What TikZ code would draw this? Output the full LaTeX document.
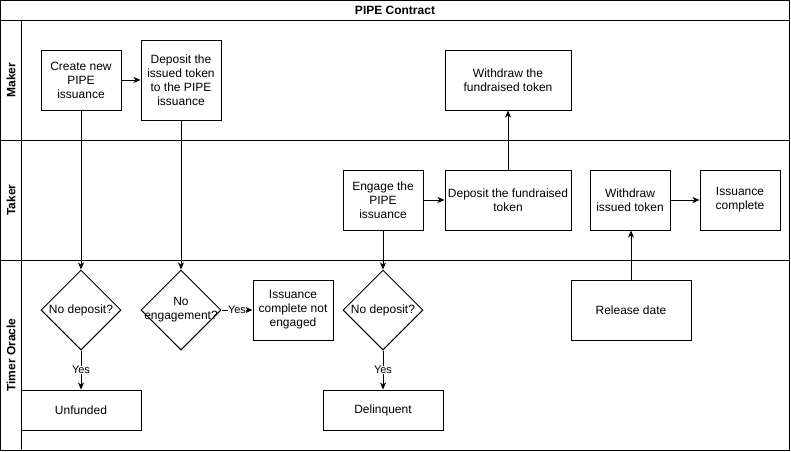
\documentclass[tikz,border=0pt]{standalone}
\usepackage{fontspec}
\setmainfont{Liberation Sans}
\usetikzlibrary{shapes.geometric,arrows.meta}
\newcommand{\pipefont}{\fontsize{12}{14}\selectfont}
\tikzset{
	lanebox/.style={draw=black, line width=1pt},
	lanelabel/.style={rotate=90, font=\pipefont\bfseries},
	stepbox/.style={draw=black, line width=1pt, inner sep=0pt, align=center, font=\pipefont},
	decision/.style={diamond, draw=black, line width=1pt, inner sep=0pt, minimum width=80pt, minimum height=80pt},
	decisiontext/.style={align=center, font=\pipefont},
	flow/.style={draw=black, line width=1pt, -{Stealth[length=7pt,width=6pt,inset=2pt]}},
	yeslbl/.style={fill=white, inner sep=0.5pt, font=\fontsize{11}{13}\selectfont}
}

\begin{document}
\begin{tikzpicture}[x=1pt, y=-1pt]
		\useasboundingbox (0,0) rectangle (791,451);
		% pool and lanes
		\draw[lanebox] (0.5,0.5) rectangle (789.5,450);
		\draw[lanebox] (0.5,20) -- (789.5,20);
		\draw[lanebox] (0.5,140) -- (789.5,140);
		\draw[lanebox] (0.5,260) -- (789.5,260);
		\draw[lanebox] (21,20) -- (21,450);
		\node[font=\pipefont\bfseries] (title) at (395,10) {PIPE Contract};
		\node[lanelabel] (maker) at (11,80) {Maker};
		\node[lanelabel] (taker) at (11,200) {Taker};
		\node[lanelabel] (oracle) at (11,355) {Timer Oracle};

		% maker lane
		\node[stepbox, minimum width=80pt, minimum height=60pt] (create) at (81,80) {Create new\\PIPE\\issuance};
		\node[stepbox, minimum width=80pt, minimum height=80pt] (depissued) at (181,80) {Deposit the\\issued token\\to the PIPE\\issuance};
		\node[stepbox, minimum width=126pt, minimum height=60pt] (withdrawfund) at (508,80) {Withdraw the\\fundraised token};

		% taker lane
		\node[stepbox, minimum width=80pt, minimum height=60pt] (engage) at (383,200) {Engage the\\PIPE\\issuance};
		\node[stepbox, minimum width=126pt, minimum height=60pt] (depfund) at (508,200) {Deposit the fundraised\\token};
		\node[stepbox, minimum width=80pt, minimum height=60pt] (withdrawiss) at (630,200) {Withdraw\\issued token};
		\node[stepbox, minimum width=80pt, minimum height=60pt] (complete) at (740,200) {Issuance\\complete};

		% timer oracle lane
		\node[decision, label={[decisiontext]center:No deposit?}] (nodeposit) at (81,310) {};
		\node[decision, label={[decisiontext]center:No\\engagement?}] (noengage) at (181,310) {};
		\node[stepbox, minimum width=80pt, minimum height=60pt] (notengaged) at (293,310) {Issuance\\complete not\\engaged};
		\node[decision, label={[decisiontext]center:No deposit?}] (delinq) at (383,310) {};
		\node[stepbox, minimum width=120pt, minimum height=40pt] (unfunded) at (81,410) {Unfunded};
		\node[stepbox, minimum width=120pt, minimum height=40pt] (delinquent) at (383,410) {Delinquent};
		\node[stepbox, minimum width=120pt, minimum height=60pt] (release) at (631,310) {Release date};

		\draw[flow] (create) -- (depissued);
		\draw[flow] (create) -- (nodeposit);
		\draw[flow] (depissued) -- (noengage);
		\draw[flow] (noengage) -- node[yeslbl] {Yes} (notengaged);
		\draw[flow] (nodeposit) -- node[yeslbl] {Yes} (unfunded);
		\draw[flow] (engage) -- (delinq);
		\draw[flow] (delinq) -- node[yeslbl] {Yes} (delinquent);
		\draw[flow] (engage) -- (depfund);
		\draw[flow] (depfund) -- (withdrawfund);
		\draw[flow] (release.north) -- (release.north |- withdrawiss.south);
		\draw[flow] (withdrawiss) -- (complete);
	\end{tikzpicture}
\end{document}
